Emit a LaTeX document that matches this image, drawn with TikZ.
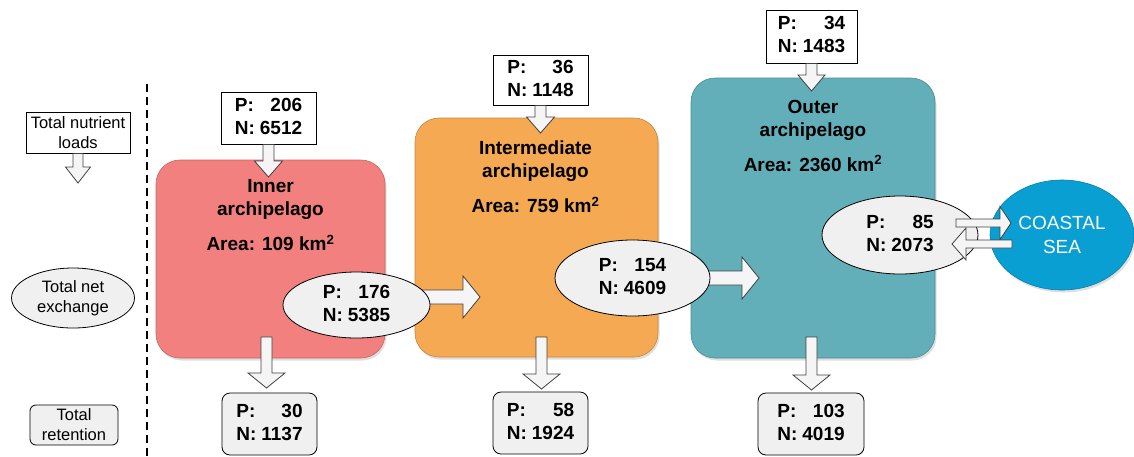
\documentclass[tikz,border=0pt]{standalone}
\usepackage{fontspec}
\setmainfont{Liberation Sans}
\usetikzlibrary{calc,positioning,shapes.geometric,shadows}

\definecolor{innerred}{HTML}{F2807E}
\definecolor{midorange}{HTML}{F5A952}
\definecolor{outerteal}{HTML}{62AEB9}
\definecolor{seablue}{HTML}{0A9FD3}
\definecolor{lightfill}{HTML}{F0F0F0}
\definecolor{arrowfill}{HTML}{F5F5F5}
\definecolor{arrowline}{HTML}{404040}

\newcommand{\pn}[2]{\begin{tabular}{@{}l@{\hspace{5pt}}r@{}}P:&#1\\N:&#2\end{tabular}}

\tikzset{
  datafont/.style={font=\fontsize{19}{23}\selectfont\bfseries},
  legendfont/.style={font=\fontsize{16.5}{20}\selectfont, align=center},
  basin/.style={rectangle, rounded corners=24pt, draw=#1!80!black, fill=#1, line width=0.6pt,
    drop shadow={opacity=0.25, shadow xshift=1.5pt, shadow yshift=-2.5pt}},
  basintitle/.style={align=center, inner sep=0pt, datafont},
  loadbox/.style={rectangle, draw, fill=white, line width=0.8pt, inner sep=2pt, datafont},
  retbox/.style={rectangle, rounded corners=8pt, draw, fill=lightfill, line width=0.8pt, datafont},
  exch/.style={ellipse, draw, fill=lightfill, line width=0.8pt, inner sep=0pt, datafont},
  legendbox/.style={rectangle, draw, fill=white, line width=0.8pt, legendfont},
  legendell/.style={ellipse, draw, fill=lightfill, line width=0.8pt, inner sep=0pt, legendfont},
  legendret/.style={rectangle, rounded corners=6pt, draw, fill=lightfill, line width=0.8pt, legendfont},
  % hollow block arrow: shaft half width, head half width, head length
  barrow/.style n args={3}{draw=arrowline, fill=arrowfill, line width=0.8pt, line join=miter,
    to path={
      ($(\tikztotarget)!#3pt!(\tikztostart)$) coordinate (bahead)
      ($(\tikztostart)!#1pt!90:(\tikztotarget)$)
      -- ($(bahead)!#1pt!90:(\tikztotarget)$)
      -- ($(bahead)!#2pt!90:(\tikztotarget)$)
      -- (\tikztotarget)
      -- ($(bahead)!#2pt!270:(\tikztotarget)$)
      -- ($(bahead)!#1pt!270:(\tikztotarget)$)
      -- ($(\tikztostart)!#1pt!270:(\tikztotarget)$)
      -- cycle}},
}

\begin{document}
\begin{tikzpicture}[x=1pt, y=-1pt]
  \useasboundingbox (0,0) rectangle (1134,456);

  % Legend column
  \draw[line width=1.4pt, dash pattern=on 8pt off 5pt] (147,84) -- (147,456);
  \node[legendbox, minimum width=104pt, minimum height=41pt] (legload) at (78,132.5) {Total nutrient\\loads};
  \node[legendell, minimum width=123pt, minimum height=60pt] (legexch) at (73,298) {Total net\\exchange};
  \node[legendret, minimum width=88pt, minimum height=40pt] (legret) at (74,425) {Total\\retention};
  \coordinate (legtip) at (78,183);
  \draw[barrow={5}{12.5}{16}] (legload.south) to (legtip);

  % Basins
  \node[basin=innerred, minimum width=229pt, minimum height=198pt] (inner) at (270.5,259) {};
  \node[basin=midorange, minimum width=243pt, minimum height=239pt] (inter) at (536.5,237.5) {};
  \node[basin=outerteal, minimum width=244pt, minimum height=280pt] (outer) at (813,218) {};

  \node[basintitle, below=20pt of inner.north] (innername) {Inner\\archipelago\\[12pt]Area: 109 km\textsuperscript{2}};
  \node[basintitle, below=23pt of inter.north, xshift=-1pt] (intername) {Intermediate\\archipelago\\[12pt]Area: 759 km\textsuperscript{2}};
  \node[basintitle, below=22pt of outer.north] (outername) {Outer\\archipelago\\[12pt]Area: 2360 km\textsuperscript{2}};

  % Loads
  \node[loadbox, minimum width=95pt, minimum height=52pt] (load1) at (268.5,118) {\pn{206}{6512}};
  \node[loadbox, minimum width=95pt, minimum height=50pt] (load2) at (540.5,80) {\pn{36}{1148}};
  \node[loadbox, minimum width=91pt, minimum height=53pt] (load3) at (811.5,36.5) {\pn{34}{1483}};
  \coordinate (tip1) at (268.5,177);
  \coordinate (tip2) at (540.5,133);
  \coordinate (tip3) at (811.5,91);
  \draw[barrow={5.5}{14}{16}] (load1.south) to (tip1);
  \draw[barrow={5.5}{14}{16}] (load2.south) to (tip2);
  \draw[barrow={5.5}{13.5}{16}] (load3.south) to (tip3);

  % Retention
  \node[retbox, minimum width=95pt, minimum height=62pt] (ret1) at (269.5,424) {\pn{30}{1137}};
  \node[retbox, minimum width=95pt, minimum height=62pt] (ret2) at (540.5,423) {\pn{58}{1924}};
  \node[retbox, minimum width=106pt, minimum height=62pt] (ret3) at (811,424) {\pn{103}{4019}};
  \coordinate (rs1) at (266.5,337);
  \coordinate (rs2) at (541.5,337);
  \coordinate (rs3) at (811.5,337);
  \coordinate (rt1) at (266.5,388);
  \coordinate (rt2) at (541.5,389);
  \coordinate (rt3) at (811.5,390);
  \draw[barrow={5.5}{18.5}{15}] (rs1) to (rt1);
  \draw[barrow={5.5}{18.5}{15}] (rs2) to (rt2);
  \draw[barrow={5.5}{18.5}{15}] (rs3) to (rt3);

  % Exchange
  \coordinate (ex1c) at (356.5,305);
  \coordinate (ex2c) at (632.5,278);
  \coordinate (ex3c) at (900,235);
  \coordinate (ex1s) at (356.5,297);
  \coordinate (tipA) at (480,297);
  \coordinate (tipB) at (759,278);
  \draw[barrow={7}{21}{17}] (ex1s) to (tipA);
  \draw[barrow={7}{21}{17}] (ex2c) to (tipB);
  \node[exch, minimum width=147pt, minimum height=66pt] (ex1) at (ex1c) {\pn{176}{5385}};
  \node[exch, minimum width=155pt, minimum height=76pt] (ex2) at (ex2c) {\pn{154}{4609}};
  \node[exch, minimum width=156pt, minimum height=78pt] (ex3) at (ex3c) {\pn{85}{2073}};

  % Coastal sea
  \node[ellipse, draw=seablue!80!black, fill=seablue, line width=0.6pt, text=white, align=center,
    font=\fontsize{19}{24}\selectfont, minimum width=144pt, minimum height=110pt,
    drop shadow={opacity=0.25, shadow xshift=1.5pt, shadow yshift=-2.5pt}] (sea) at (1062,235) {COASTAL\\SEA};
  \coordinate (outs) at (956,223);
  \coordinate (outt) at (1011,223);
  \coordinate (ins) at (1012,244);
  \coordinate (int) at (952,244);
  \draw[barrow={4}{16.5}{11}] (outs) to (outt);
  \draw[barrow={4}{16}{14}] (ins) to (int);
\end{tikzpicture}
\end{document}
